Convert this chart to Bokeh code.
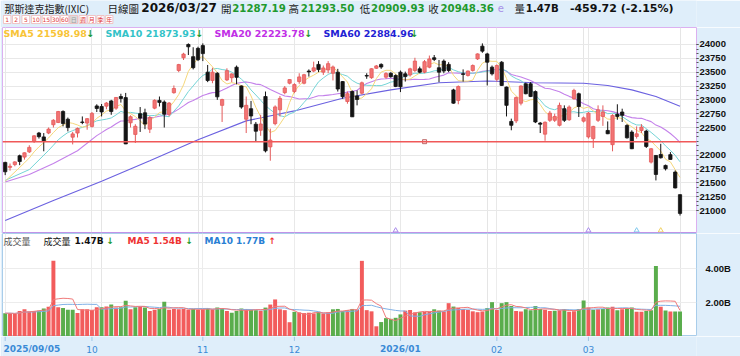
import numpy as np
import pandas as pd
from bokeh.plotting import figure
from bokeh.layouts import column
from bokeh.models import Range1d, FixedTicker, Grid, Label, ColumnDataSource, Span
from bokeh.core.properties import value
from bokeh.embed import file_html
from bokeh.resources import INLINE

# ---------------- data ----------------
opens = [21870,21780,21830,21990,21965,22060,22250,22400,22330,22400,
         22550,22590,22790,22650,22326,22400,22600,22580,22520,22890,
         22880,22886,22980,22850,23060,23040,22585,22375,22750,22766,
         22470,22850,22990,22960,22740,23130,23530,23760,24000,23780,
         23930,23980,23500,23350,23480,22900,23360,23400,23590,23250,
         22650,22840,22560,22450,23060,22150,22570,22820,23130,23300,
         23150,23330,23300,23520,23520,23640,23500,23540,23480,23500,
         23330,22970,23150,23070,23120,23440,23400,23570,23640,23410,
         23480,23440,23500,23470,23450,23530,23560,23500,23590,23760,
         23580,23700,23640,23180,22990,23470,23440,23530,23740,23970,
         23830,23590,23370,23680,23230,22610,22620,22940,23290,23290,
         23150,22580,22380,22630,22630,22540,22840,22640,23020,23110,
         22615,22330,22300,22630,22700,22447,22190,22740,22780,22537,
         22417,22338,22447,22435,21875,21995,22013,21815,22010,21694,
         21287.19]
highs = [21880,21850,21890,22010,22050,22180,22360,22420,22400,22500,
         22650,22800,22810,22680,22420,22500,22700,22670,22780,22920,
         22925,22960,23000,23050,23110,23125,22720,22560,22870,22840,
         22710,23010,23060,22990,22960,23260,23650,23850,24020,23950,
         23960,24020,23630,23580,23500,23020,23570,23480,23620,23260,
         23060,22980,22600,22730,23150,22480,22900,23070,23250,23370,
         23300,23480,23470,23550,23690,23700,23620,23700,23620,23560,
         23340,23150,23170,23170,23330,23480,23570,23630,23660,23500,
         23500,23460,23530,23510,23580,23760,23600,23720,23800,23810,
         23720,23730,23680,23200,23260,23550,23530,23640,23840,24020,
         23850,23620,23640,23700,23240,22660,23060,23260,23310,23320,
         23170,22600,22610,22800,22750,22950,22900,22900,23200,23130,
         22700,22780,22530,22900,22900,22610,22740,22920,22840,22560,
         22450,22520,22560,22460,22130,22000,22206,21830,22056,21724,
         21293.50]
lows = [21640,21720,21800,21820,21920,22040,22220,22300,22070,22380,
        22500,22580,22520,22430,22195,22320,22560,22460,22500,22780,
        22700,22830,22730,22820,22950,22200,22500,22220,22420,22470,
        22400,22830,22880,22500,22700,23110,23500,23720,23810,23550,
        23700,23700,23320,23300,23000,22600,23340,23320,23280,22840,
        22400,22560,22250,22350,22050,21900,22540,22700,23100,23280,
        23120,23290,23280,23420,23500,23500,23450,23480,23350,23150,
        23020,22930,22690,22900,23100,23380,23380,23560,23560,23380,
        23400,23230,23140,23330,23420,23500,23480,23480,23570,23700,
        23320,23480,23500,22930,22920,23330,23420,23510,23720,23850,
        23260,23440,23330,23250,22700,22450,22580,22900,23100,23050,
        22580,22400,22260,22600,22600,22520,22600,22620,23000,22690,
        22590,22300,22130,22600,22530,22380,22070,22640,22600,22300,
        22110,22300,22400,22130,21850,21544,21940,21724,21920,21400,
        20909.93]
closes = [21700,21799,21879,21886,22043,22141,22349,22334,22261,22471,
          22631,22789,22573,22498,22385,22484,22591,22660,22755,22844,
          22781,22942,22788,23043,23025,22204,22695,22522,22670,22563,
          22680,22991,22954,22740,22942,23205,23637,23827,23958,23581,
          23725,23835,23349,23500,23054,23005,23527,23468,23406,22870,
          22901,22708,22433,22564,22078,22273,22872,23026,23215,23366,
          23276,23414,23454,23505,23578,23546,23576,23654,23594,23195,
          23057,23111,22693,23006,23308,23429,23562,23613,23593,23474,
          23419,23242,23236,23420,23560,23700,23500,23690,23740,23730,
          23500,23520,23530,22940,23240,23460,23520,23620,23830,23880,
          23680,23470,23620,23260,22900,22540,23040,23250,23110,23060,
          22600,22560,22595,22760,22700,22900,22630,22870,23170,22880,
          22675,22760,22520,22820,22780,22387,22718,22700,22720,22314,
          22116,22386,22507,22158,22116,21652,21953,21755,21923,21408.08,
          20948.36]
volumes = [1.37,1.37,1.33,1.50,1.60,1.47,1.50,1.52,1.65,1.75,
           4.45,1.72,1.68,1.58,1.58,1.38,1.60,1.60,1.56,1.72,
           1.72,1.76,1.88,1.70,1.72,2.10,1.60,1.72,1.74,1.70,
           1.50,1.58,1.62,2.05,1.58,1.62,1.60,1.62,1.58,1.62,
           1.58,1.60,1.66,1.60,1.70,1.68,1.50,1.40,1.50,1.65,
           1.62,1.56,1.55,1.52,1.70,1.88,2.18,1.60,1.55,0.84,
           1.45,1.42,1.38,1.40,1.36,1.45,1.36,1.42,1.60,1.62,
           1.50,1.55,1.62,1.58,4.45,1.55,1.48,0.60,0.85,1.08,
           1.04,1.10,1.30,1.52,1.56,1.42,1.43,1.45,1.47,1.60,
           1.52,1.48,1.96,1.76,1.68,1.62,1.56,1.48,1.43,1.47,
           1.67,2.02,1.56,1.96,2.02,1.80,1.50,1.47,1.60,1.55,
           1.80,1.62,1.58,1.50,1.52,1.55,1.62,1.45,1.48,1.62,
           2.12,1.70,1.58,1.60,1.62,1.70,1.75,1.55,1.60,1.65,
           1.70,1.45,1.45,1.50,1.55,4.14,1.75,1.53,1.47,1.47,1.47]

# moving-average lines read where the window reaches before the chart
sma5_head_idx, sma5_head = [0], [21530]
sma10_head_idx, sma10_head = [0, 5], [21545, 21740]
sma20_head_idx, sma20_head = [0, 5, 10, 15], [21515, 21650, 21850, 22080]
sma60_idx = [0, 10, 20, 30, 40, 50, 60, 70, 80, 90, 100, 110, 120, 125, 130, 135, 140]
sma60_val = [20820, 21180, 21530, 21900, 22280, 22620, 22800, 23030, 23180, 23310,
             23340, 23310, 23300, 23260, 23180, 23060, 22885]

month_idx = [0, 18, 41, 60, 82, 102, 121]
month_lbl = ["2025/09/05", "10", "11", "12", "2026/01", "02", "03"]
price_ticks = [21000, 21250, 21500, 21750, 22000, 22500, 22750, 23000, 23250, 23500, 23750, 24000]
ref_price = 22244.00
event_idx = [81, 121, 131, 136]
event_col = ["#a98bea", "#a98bea", "#7fc8ee", "#f0d060"]
mark_idx = [87]
vol_ticks = [2, 4]

# ---------------- derived ----------------
N = len(closes)
idx = np.arange(N)
o = np.array(opens, float); h = np.array(highs, float)
l = np.array(lows, float); c = np.array(closes, float)
v = np.array(volumes, float)
up = c >= o
cs = pd.Series(c)
def ma_line(head_i, head_v, n):
    r = cs.rolling(n).mean().values
    xs = list(head_i) + list(range(n - 1, N))
    ys = list(head_v) + list(r[n - 1:])
    return xs, ys
s5x, s5y = ma_line(sma5_head_idx, sma5_head, 5)
s10x, s10y = ma_line(sma10_head_idx, sma10_head, 10)
s20x, s20y = ma_line(sma20_head_idx, sma20_head, 20)
vup = np.concatenate([[c[0] >= o[0]], c[1:] >= c[:-1]])
vs = pd.Series(v)
vma5 = vs.rolling(5, min_periods=1).mean().values
vma10 = vs.rolling(10, min_periods=1).mean().values

BG = "#dfeefa"
W = 740
LB, RB = 2, 44
FW = W - LB - RB
H_HEAD, H_MAIN, H_VOL, H_DATE = 27, 206, 103, 20
xr = Range1d(-0.56, 143.42)
Y_TOP, Y_BOT = 24307, 20585

def xd(px):
    return xr.start + (px - LB) * (xr.end - xr.start) / FW
def yd_main(py):
    return Y_TOP - (py - H_HEAD) * (Y_TOP - Y_BOT) / H_MAIN
VTOP = 103 / 17.0
def yd_vol(py):
    return (336 - py) / 17.0

DJ = value("DejaVu Sans")
CJK = value("Noto Sans CJK TC")

# ---------------- header ----------------
hd = figure(width=W, height=H_HEAD, x_range=Range1d(0, W), y_range=Range1d(H_HEAD, 0),
            toolbar_location=None, output_backend="svg", min_border=0,
            x_axis_location=None, y_axis_location=None)
hd.background_fill_color = BG
hd.border_fill_color = BG
hd.outline_line_color = None
hd.grid.visible = False

def htext(x, t, font, size, color, bold=False, y=7.5):
    hd.text(x=[x], y=[y], text=[t], text_font=font, text_font_size=size,
            text_font_style="bold" if bold else "normal", text_color=color,
            text_baseline="middle", text_align="left")

GREEN = "#1f9a2e"
htext(2, "那斯達克指數(IXIC)", CJK, "10px", "#222222")
htext(112, "日線圖", CJK, "10.5px", "#222222")
htext(148, "2026/03/27", DJ, "12px", "#111111", True)
htext(233, "開", CJK, "10.5px", "#222222")
htext(245, "21287.19", DJ, "10.2px", GREEN, True)
htext(305, "高", CJK, "10.5px", "#222222")
htext(318, "21293.50", DJ, "10.2px", GREEN, True)
htext(381, "低", CJK, "10.5px", "#222222")
htext(393, "20909.93", DJ, "10.2px", GREEN, True)
htext(454, "收", CJK, "10.5px", "#222222")
htext(467, "20948.36", DJ, "10.2px", GREEN, True)
htext(528, "e", DJ, "10px", "#a890e8")
htext(546, "量", CJK, "10.5px", "#222222")
htext(558, "1.47B", DJ, "10.2px", "#111111", True)
htext(605, "-459.72 (-2.15%)", DJ, "11px", "#111111", True)

btn_lbl = ["1", "2", "5", "10", "15", "30", "60", "日", "週", "月", "季", "年"]
btn_l = [1, 10.7, 20.7, 31, 42.3, 52.3, 62, 71.7, 81.7, 91, 100.7, 110]
btn_r = [9, 18.3, 29, 40.7, 51, 60.7, 70.7, 80, 90, 99.3, 108.3, 117.7]
bc = [(a + b) / 2 for a, b in zip(btn_l, btn_r)]
bw = [b - a for a, b in zip(btn_l, btn_r)]
bfill = ["#dcdcdc" if t == "日" else "white" for t in btn_lbl]
btxt = ["#9a9a9a" if t == "日" else "#e03a3a" for t in btn_lbl]
hd.rect(x=bc, y=19, width=bw, height=8, fill_color=bfill, line_color="#f0b8b8", line_width=0.8)
for t, x, col in zip(btn_lbl, bc, btxt):
    f = CJK if not t.isdigit() else DJ
    hd.text(x=[x], y=[19.3], text=[t], text_font=f, text_font_size="6px", text_color=col,
            text_baseline="middle", text_align="center")

# ---------------- main price pane ----------------
p = figure(width=W, height=H_MAIN, x_range=xr, y_range=Range1d(Y_BOT, Y_TOP),
           toolbar_location=None, output_backend="svg", min_border_left=LB, min_border_right=RB,
           min_border_top=0, min_border_bottom=0, x_axis_location=None, y_axis_location="right")
p.background_fill_color = "white"
p.border_fill_color = BG
p.outline_line_color = "#dcb0f0"
minor = [21000 + k * 250 / 3 for k in range(37)]
p.yaxis.ticker = FixedTicker(ticks=price_ticks, minor_ticks=minor)
p.yaxis.axis_line_color = None
p.yaxis.major_tick_in = 0
p.yaxis.major_tick_out = 2
p.yaxis.minor_tick_in = 0
p.yaxis.minor_tick_out = 2
p.yaxis.major_tick_line_color = "#555555"
p.yaxis.minor_tick_line_color = "#555555"
p.yaxis.major_label_standoff = 1
p.yaxis.major_label_text_font = "Liberation Sans"
p.yaxis.major_label_text_font_style = "bold"
p.yaxis.major_label_text_font_size = "9.5px"
p.yaxis.major_label_text_color = "#111111"
p.ygrid.grid_line_color = "#e8e8e8"
p.add_layout(Grid(dimension=0, ticker=FixedTicker(ticks=month_idx), grid_line_color="#e8e8e8"))

src = ColumnDataSource(dict(
    x=idx, o=o, h=h, l=l, c=c,
    top=np.maximum(o, c), bot=np.minimum(o, c),
    fill=np.where(up, "#f27474", "#141414"),
    line=np.where(up, "#e45a5a", "#141414"),
))
p.line(sma60_idx, sma60_val, line_color="#6b61e0", line_width=1.1)
p.line(s20x, s20y, line_color="#c481ea", line_width=1.1)
p.line(s10x, s10y, line_color="#74d4d6", line_width=1)
p.line(s5x, s5y, line_color="#f5d77a", line_width=1)
p.segment(x0="x", y0="l", x1="x", y1="h", source=src, line_color="line", line_width=1)
p.vbar(x="x", width=0.68, top="top", bottom="bot", source=src, fill_color="fill", line_color="line", line_width=0.8)
p.add_layout(Span(location=ref_price, dimension="width", line_color="#f05858", line_width=1.6))
p.scatter(x=mark_idx, y=[ref_price] * len(mark_idx), marker="square", size=4,
          fill_color="#fbeaea", line_color="#b04848", line_width=0.8)
p.scatter(x=event_idx, y=[yd_main(230)] * len(event_idx), marker="triangle", size=5,
          fill_color="white", line_color=event_col, line_width=1)
p.add_layout(Span(location=Y_BOT, dimension="width", line_color="#b98ae6", line_width=2.5))
p.add_layout(Label(x=xd(698.5), y=ref_price, text="22244.00", text_color="#ee3333",
                   text_font="Liberation Sans", text_font_style="bold", text_font_size="9.5px",
                   text_baseline="middle", text_align="left"))

ly = yd_main(32.5)
leg = [(3, "SMA5 21598.98", "#f8c437"), (86, "↓", "#1f9a2e"),
       (105, "SMA10 21873.93", "#33c3c8"), (195, "↓", "#1f9a2e"),
       (214, "SMA20 22223.78", "#c12fe6"), (304, "↓", "#1f9a2e"),
       (323, "SMA60 22884.96", "#1f22d4"), (410, "↓", "#1f9a2e")]
p.text(x=[xd(a) for a, _, _ in leg], y=[ly] * len(leg), text=[t for _, t, _ in leg],
       text_color=[col for _, _, col in leg], text_font=DJ, text_font_size="9.5px",
       text_font_style="bold", text_baseline="middle", text_align="left")

# ---------------- volume pane ----------------
q = figure(width=W, height=H_VOL, x_range=xr, y_range=Range1d(0, VTOP),
           toolbar_location=None, output_backend="svg", min_border_left=LB, min_border_right=RB,
           min_border_top=0, min_border_bottom=0, x_axis_location=None, y_axis_location="right")
q.background_fill_color = "white"
q.border_fill_color = BG
q.outline_line_color = "#a9cdea"
q.yaxis.ticker = FixedTicker(ticks=vol_ticks)
q.yaxis.major_label_overrides = {2: "2.00B", 4: "4.00B"}
q.yaxis.axis_line_color = None
q.yaxis.major_tick_line_color = None
q.yaxis.major_label_standoff = 3
q.yaxis.major_label_text_font = "Liberation Sans"
q.yaxis.major_label_text_font_style = "bold"
q.yaxis.major_label_text_font_size = "9.5px"
q.yaxis.major_label_text_color = "#111111"
q.ygrid.grid_line_color = "#ececec"
q.add_layout(Grid(dimension=0, ticker=FixedTicker(ticks=month_idx), grid_line_color="#ececec"))
vsrc = ColumnDataSource(dict(x=idx, v=v, col=np.where(vup, "#f25c5c", "#5aad4c")))
q.vbar(x="x", width=0.82, top="v", bottom=0, source=vsrc, fill_color="col", line_color=None)
q.line(idx, vma10, line_color="#7fb0e6", line_width=1)
q.line(idx, vma5, line_color="#f07a7a", line_width=1)

vy = yd_vol(240.5)
vleg = [(3, "成交量", "#555555", CJK, "normal"), (43, "成交量", "#111111", CJK, "normal"),
        (74, "1.47B", "#111111", DJ, "bold"), (106, "↓", "#1f9a2e", DJ, "bold"),
        (127, "MA5 1.54B", "#ee3333", DJ, "bold"), (185, "↓", "#1f9a2e", DJ, "bold"),
        (204, "MA10 1.77B", "#2a7fd4", DJ, "bold"), (268, "↑", "#ee3333", DJ, "bold")]
for a, t, col, f, st in vleg:
    q.text(x=[xd(a)], y=[vy], text=[t], text_color=col, text_font=f, text_font_size="9px",
           text_font_style=st, text_baseline="middle", text_align="left")

# ---------------- date labels ----------------
d = figure(width=W, height=H_DATE, x_range=xr, y_range=Range1d(H_DATE, 0),
           toolbar_location=None, output_backend="svg", min_border_left=LB, min_border_right=RB,
           min_border_top=0, min_border_bottom=0, x_axis_location=None, y_axis_location=None)
d.background_fill_color = BG
d.border_fill_color = BG
d.outline_line_color = None
d.grid.visible = False
d.segment(x0=month_idx, y0=[0] * len(month_idx), x1=month_idx, y1=[4.5] * len(month_idx),
          line_color="#9fc6e6", line_width=1)
for k, (mi, t) in enumerate(zip(month_idx, month_lbl)):
    bold = "/" in t
    d.text(x=[xd(3) if k == 0 else mi], y=[12.5], text=[t], text_font=DJ, text_font_size="9px",
           text_font_style="bold" if bold else "normal", text_color="#3a8ad6",
           text_baseline="middle", text_align="left" if k == 0 else "center")

lay = column(hd, p, q, d, spacing=0)
open("out.html", "w").write(file_html(lay, INLINE))
